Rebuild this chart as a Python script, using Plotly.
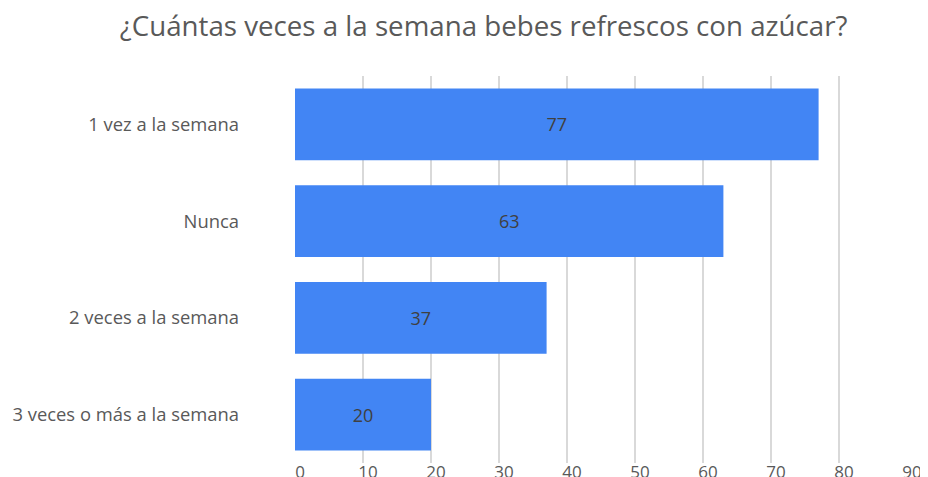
import plotly.graph_objects as go

categorias = ["1 vez a la semana", "Nunca", "2 veces a la semana", "3 veces o más a la semana"]
valores = [77, 63, 37, 20]
ticks_x = [0, 10, 20, 30, 40, 50, 60, 70, 80, 90]

fig = go.Figure(go.Bar(
    x=valores,
    y=categorias,
    orientation="h",
    marker=dict(color="#4285F4", line=dict(width=0)),
    text=valores,
    textposition="inside",
    insidetextanchor="middle",
    textfont=dict(color="#404040", size=18),
    textangle=0,
))

# la página añade 8px de margen al body, así que se compensa aquí
fig.update_layout(
    template="none",
    width=920,
    height=469,
    margin=dict(l=287, r=21, t=68, b=14),
    paper_bgcolor="white",
    plot_bgcolor="white",
    font=dict(family="Open Sans", color="#595959", size=16),
    title=dict(
        text="¿Cuántas veces a la semana bebes refrescos con azúcar?",
        x=0.517, xanchor="center", y=0.96, yanchor="middle",
        font=dict(size=27.7, color="#595959"),
    ),
    bargap=0.26,
    showlegend=False,
)

fig.update_xaxes(
    range=[0, 90],
    tickvals=ticks_x,
    showgrid=True,
    gridcolor="#d9d9d9",
    gridwidth=2,
    zeroline=False,
    showline=False,
    ticks="",
    ticklabelshift=5,
    ticklabelstandoff=-3,
    automargin=False,
    tickfont=dict(size=17, color="#595959"),
)

fig.update_yaxes(
    categoryorder="array",
    categoryarray=categorias[::-1],
    showgrid=False,
    zeroline=False,
    showline=False,
    ticks="",
    ticklabelstandoff=55,
    automargin=False,
    tickfont=dict(size=18.4, color="#595959"),
)

fig.write_html("out.html")
